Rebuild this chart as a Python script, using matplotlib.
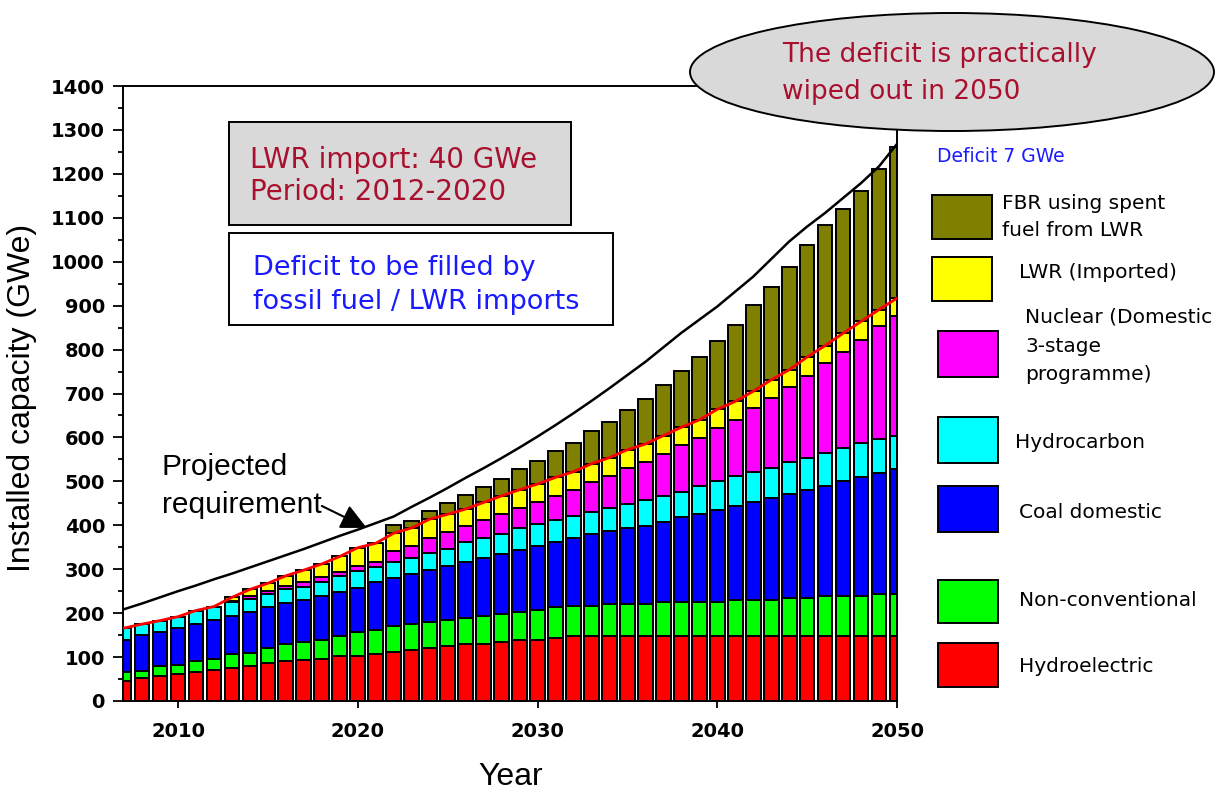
import matplotlib
matplotlib.use('Agg')
import matplotlib.pyplot as plt
from matplotlib.patches import Rectangle, Ellipse
from matplotlib.ticker import MultipleLocator
import numpy as np

# ---------------- data (GWe) ----------------
years = list(range(2007, 2051))

hydroelectric = [46, 52, 57, 62, 66, 70, 74, 80, 86, 90, 94, 95, 103, 103, 107, 112,
                 116, 121, 126, 130, 130, 134, 139, 139, 143, 148, 148, 148, 148, 148,
                 148, 148, 148, 148, 148, 148, 148, 148, 148, 148, 148, 148, 148, 148]
non_conventional = [19, 17, 23, 21, 26, 26, 32, 30, 34, 40, 40, 44, 45, 54, 55, 59,
                    59, 58, 59, 59, 63, 63, 64, 68, 70, 68, 68, 72, 73, 73,
                    77, 77, 77, 77, 82, 82, 82, 86, 86, 91, 91, 91, 96, 96]
coal_domestic = [74, 81, 77, 83, 83, 88, 88, 93, 93, 92, 96, 100, 101, 101, 110, 109,
                 114, 119, 123, 128, 133, 138, 141, 146, 149, 155, 164, 166, 172, 178,
                 183, 193, 201, 210, 214, 223, 232, 237, 246, 251, 261, 270, 275, 284]
hydrocarbon = [27, 25, 26, 26, 31, 31, 31, 30, 31, 32, 30, 32, 36, 37, 32, 36,
               37, 40, 39, 44, 45, 45, 49, 50, 50, 51, 51, 53, 56, 59,
               59, 58, 63, 65, 68, 69, 69, 74, 74, 74, 77, 78, 77, 76]
nuclear_domestic = [0, 0, 0, 0, 0, 0, 3, 5, 6, 8, 12, 11, 9, 12, 13, 26,
                    26, 33, 37, 38, 41, 46, 47, 50, 55, 59, 67, 74, 81, 86,
                    96, 106, 109, 121, 128, 145, 158, 169, 186, 205, 217, 235, 258, 273]
lwr_imported = [0, 0, 0, 0, 0, 0, 8, 16, 18, 23, 26, 30, 35, 42, 42, 40,
                42, 43, 41, 38, 40, 41, 41, 41, 42, 41, 42, 41, 42, 41,
                41, 41, 42, 43, 42, 38, 42, 40, 43, 40, 43, 42, 37, 40]
fbr_spent_fuel = [0, 0, 0, 0, 0, 0, 0, 0, 0, 0, 0, 0, 0, 0, 0, 19,
                  16, 19, 25, 32, 35, 38, 47, 53, 59, 65, 74, 82, 91, 102,
                  115, 129, 143, 156, 174, 197, 211, 235, 256, 274, 283, 298, 320, 344]
projected_requirement = [209, 222, 236, 250, 263, 277, 290, 304, 318, 332, 346, 361, 376, 390,
                         405, 420, 442, 463, 485, 508, 530, 553, 577, 602, 628, 655, 683, 712,
                         742, 772, 805, 838, 868, 898, 932, 966, 1006, 1046, 1080, 1111, 1145,
                         1179, 1217, 1268]

series = [
    ("Hydroelectric", hydroelectric, "#FF0000"),
    ("Non-conventional", non_conventional, "#00FF00"),
    ("Coal domestic", coal_domestic, "#0000FF"),
    ("Hydrocarbon", hydrocarbon, "#00FFFF"),
    ("Nuclear (Domestic\n3-stage\nprogramme)", nuclear_domestic, "#FF00FF"),
    ("LWR (Imported)", lwr_imported, "#FFFF00"),
    ("FBR using spent\nfuel from LWR", fbr_spent_fuel, "#808000"),
]

W, H = 1225, 799
fig = plt.figure(figsize=(W / 100, H / 100), dpi=100)


def fx(px):
    return px / W


def fy(py):
    return 1 - py / H


ax = fig.add_axes([fx(123), fy(701), (897 - 123) / W, (701 - 86) / H])

yrs = np.array(years)
bottom = np.zeros(len(years))
for name, vals, color in series:
    v = np.array(vals, dtype=float)
    m = v > 0
    ax.bar(yrs[m], v[m], width=0.82, bottom=bottom[m], color=color,
           edgecolor='black', linewidth=1.4, zorder=2)
    bottom += v

# red line: top of the stack without FBR
non_fbr_total = np.zeros(len(years))
for name, vals, color in series[:-1]:
    non_fbr_total += np.array(vals, dtype=float)
ax.plot(yrs, non_fbr_total, color='#FF0000', lw=2.0, zorder=4)
ax.plot(yrs, projected_requirement, color='black', lw=1.8, zorder=4)

ax.set_xlim(2006.94, 2050)
ax.set_ylim(0, 1400)
ax.set_xticks([2010, 2020, 2030, 2040, 2050])
ax.yaxis.set_major_locator(MultipleLocator(100))
ax.yaxis.set_minor_locator(MultipleLocator(50))
ax.tick_params(axis='y', which='major', direction='out', length=7, width=1.3, pad=6,
               labelsize=14)
ax.tick_params(axis='y', which='minor', direction='out', length=3.6, width=1.3)
ax.tick_params(axis='x', which='major', direction='out', length=5, width=1.3, pad=10,
               labelsize=14)
for lab in ax.get_xticklabels() + ax.get_yticklabels():
    lab.set_fontweight('bold')
for sp in ax.spines.values():
    sp.set_linewidth(1.4)

# axis titles
fig.text(fx(22), fy(398), "Installed capacity (GWe)", rotation=90, ha='center', va='center',
         family='Liberation Sans', fontsize=23)
fig.text(fx(511), fy(777), "Year", ha='center', va='center',
         family='Liberation Sans', fontsize=23)

# projected requirement label and arrow
fig.text(fx(162), fy(467), "Projected", ha='left', va='center',
         family='Liberation Sans', fontsize=21.5)
fig.text(fx(162), fy(505), "requirement", ha='left', va='center',
         family='Liberation Sans', fontsize=21.5)
ax.annotate('', xy=(2020.5, 394), xytext=(2018.0, 444),
            arrowprops=dict(arrowstyle='-|>,head_length=0.45,head_width=0.22',
                            color='black', lw=1.5, mutation_scale=35,
                            shrinkA=0, shrinkB=0), zorder=5)

# gray box
fig.add_artist(Rectangle((fx(229), fy(225)), (571 - 229) / W, (225 - 122) / H,
                         transform=fig.transFigure, facecolor='#D9D9D9',
                         edgecolor='black', linewidth=1.4))
dark_red = '#A8102E'
fig.text(fx(250), fy(160), "LWR import: 40 GWe", ha='left', va='center', color=dark_red,
         fontsize=20)
fig.text(fx(250), fy(192), "Period: 2012-2020", ha='left', va='center', color=dark_red,
         fontsize=20)

# white box
fig.add_artist(Rectangle((fx(229), fy(325)), (613 - 229) / W, (325 - 233) / H,
                         transform=fig.transFigure, facecolor='white',
                         edgecolor='black', linewidth=1.4))
blue_txt = '#1A1AFF'
fig.text(fx(253), fy(268), "Deficit to be filled by", ha='left', va='center',
         color=blue_txt, fontsize=19.5)
fig.text(fx(253), fy(302), "fossil fuel / LWR imports", ha='left', va='center',
         color=blue_txt, fontsize=19.5)

# ellipse callout
fig.add_artist(Ellipse((fx(952), fy(72)), 524 / W, 118 / H, transform=fig.transFigure,
                       facecolor='#D9D9D9', edgecolor='black', linewidth=1.4))
fig.text(fx(782), fy(55), "The deficit is practically", ha='left', va='center',
         color=dark_red, fontsize=19)
fig.text(fx(782), fy(92), "wiped out in 2050", ha='left', va='center',
         color=dark_red, fontsize=19)

fig.text(fx(937), fy(157), "Deficit 7 GWe", ha='left', va='center', color=blue_txt,
         fontsize=13.5)

# legend (manual, matching reference layout)
legend_layout = {
    "FBR using spent\nfuel from LWR": ((932, 195, 992, 239), 1002, [204, 231]),
    "LWR (Imported)": ((932, 257, 992, 301), 1019, [272]),
    "Nuclear (Domestic\n3-stage\nprogramme)": ((938, 331, 998, 377), 1025, [317, 346, 374]),
    "Hydrocarbon": ((938, 417, 998, 463), 1015, [442]),
    "Coal domestic": ((938, 486, 998, 532), 1019, [512]),
    "Non-conventional": ((938, 580, 998, 623), 1019, [601]),
    "Hydroelectric": ((938, 643, 998, 687), 1019, [667]),
}
for name, vals, color in series:
    (x0, y0, x1, y1), tx, tys = legend_layout[name]
    fig.add_artist(Rectangle((fx(x0), fy(y1)), (x1 - x0) / W, (y1 - y0) / H,
                             transform=fig.transFigure, facecolor=color,
                             edgecolor='black', linewidth=1.4))
    for line, ty in zip(name.split('\n'), tys):
        fig.text(fx(tx), fy(ty), line, ha='left', va='center', fontsize=14.5)

fig.savefig('out.png', dpi=100)
